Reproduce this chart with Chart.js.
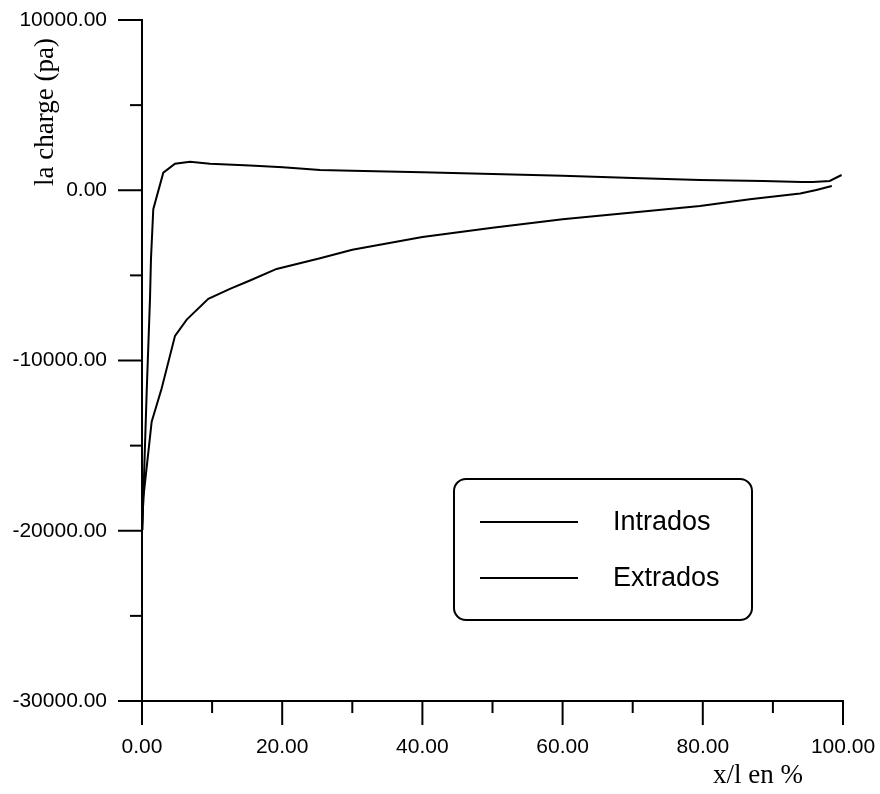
<!DOCTYPE html>
<html>
<head>
<meta charset="utf-8">
<script src="https://cdn.jsdelivr.net/npm/chart.js@4.4.1/dist/chart.umd.min.js"></script>
<style>
    body { margin: 0; background: #fff; }
    canvas { display: block; }
</style>
</head>
<body>
<canvas id="chart" width="880" height="794"></canvas>
<script>
// x/l en %  et  la charge (pa)
const intradosX = [0, 0.04, 0.19, 0.67, 1.14, 1.28, 1.61, 3.04, 4.71, 6.85, 9.7, 15.4, 20.1, 25.4, 30, 40, 50, 60, 70, 79.6, 88.6, 94.1, 95.7, 98.1, 99.8];
const intradosY = [-19900, -19830, -18070, -11820, -6380, -4040, -1110, 1035, 1560, 1680, 1560, 1460, 1345, 1190, 1150, 1050, 950, 850, 720, 600, 545, 485, 485, 545, 895];

const extradosX = [0, 0.04, 0.19, 1.38, 2.8, 4.71, 6.38, 9.46, 12.55, 15.4, 19.2, 25.4, 30, 40, 50, 60, 70, 79.6, 86.7, 93.9, 96.2, 98.4];
const extradosY = [-19900, -19830, -18070, -13590, -11640, -8550, -7600, -6380, -5790, -5300, -4620, -3990, -3500, -2750, -2200, -1700, -1300, -920, -525, -195, 20, 250];

const seriesLabels = ['Intrados', 'Extrados'];
const xTitle = 'x/l en %';
const yTitle = 'la charge (pa)';

const toPoints = (xs, ys) => xs.map((x, i) => ({ x: x, y: ys[i] }));

// pas de marge automatique autour des axes
const noPad = scale => {
    scale.paddingTop = 0;
    scale.paddingBottom = 0;
    scale.paddingLeft = 0;
    scale.paddingRight = 0;
};

// traits de graduation (longs sur les valeurs etiquetees, courts sinon)
const tickMarks = {
    id: 'tickMarks',
    afterDraw(chart) {
        const ctx = chart.ctx;
        const xs = chart.scales.x;
        const ys = chart.scales.y;
        const area = chart.chartArea;
        ctx.save();
        ctx.strokeStyle = '#000';
        ctx.lineWidth = 2;
        xs.ticks.forEach(t => {
            const px = xs.getPixelForValue(t.value);
            const len = t.value % 20 === 0 ? 24 : 12;
            ctx.beginPath();
            ctx.moveTo(px, area.bottom);
            ctx.lineTo(px, area.bottom + len);
            ctx.stroke();
        });
        ys.ticks.forEach(t => {
            const py = ys.getPixelForValue(t.value);
            const len = t.value % 10000 === 0 ? 24 : 12;
            ctx.beginPath();
            ctx.moveTo(area.left, py);
            ctx.lineTo(area.left - len, py);
            ctx.stroke();
        });

        // titres des axes
        ctx.fillStyle = '#000';
        ctx.font = '27px "Liberation Serif", "Times New Roman", serif';
        ctx.textAlign = 'left';
        ctx.textBaseline = 'middle';
        ctx.fillText(xTitle, 713, 776);

        ctx.translate(46, 112);
        ctx.rotate(-Math.PI / 2);
        ctx.textAlign = 'center';
        ctx.fillText(yTitle, 0, 0);
        ctx.restore();
    }
};

// legende encadree
const boxLegend = {
    id: 'boxLegend',
    afterDraw(chart) {
        const ctx = chart.ctx;
        ctx.save();
        ctx.strokeStyle = '#000';
        ctx.lineWidth = 2;
        ctx.beginPath();
        ctx.roundRect(454, 479, 298, 141, 12);
        ctx.stroke();

        const rows = [522, 578];
        ctx.font = '27px "Liberation Sans", Arial, sans-serif';
        ctx.textAlign = 'left';
        ctx.textBaseline = 'middle';
        ctx.fillStyle = '#000';
        chart.data.datasets.forEach((ds, i) => {
            ctx.beginPath();
            ctx.moveTo(480, rows[i]);
            ctx.lineTo(578, rows[i]);
            ctx.stroke();
            ctx.fillText(ds.label, 613, rows[i] + 1);
        });
        ctx.restore();
    }
};

window.onload = function() {
    const ctx = document.getElementById('chart').getContext('2d');
    new Chart(ctx, {
        type: 'line',
        data: {
            datasets: [
                {
                    label: seriesLabels[0],
                    data: toPoints(intradosX, intradosY),
                    borderColor: '#000',
                    borderWidth: 2,
                    pointRadius: 0,
                    tension: 0,
                    fill: false
                },
                {
                    label: seriesLabels[1],
                    data: toPoints(extradosX, extradosY),
                    borderColor: '#000',
                    borderWidth: 2,
                    pointRadius: 0,
                    tension: 0,
                    fill: false
                }
            ]
        },
        options: {
            responsive: false,
            animation: false,
            layout: {
                padding: { top: 20, right: 37, left: 0, bottom: 0 }
            },
            plugins: {
                legend: { display: false },
                tooltip: { enabled: false }
            },
            scales: {
                x: {
                    type: 'linear',
                    min: 0,
                    max: 100,
                    afterFit: scale => { scale.height = 93; noPad(scale); },
                    grid: { drawOnChartArea: false, drawTicks: false },
                    border: { display: true, color: '#000', width: 2 },
                    ticks: {
                        stepSize: 10,
                        padding: 34,
                        maxRotation: 0,
                        autoSkip: false,
                        color: '#000',
                        font: { family: '"Liberation Sans", Arial, sans-serif', size: 21 },
                        callback: v => (v % 20 === 0 ? v.toFixed(2) : '')
                    }
                },
                y: {
                    min: -30000,
                    max: 10000,
                    afterFit: scale => { scale.width = 142; noPad(scale); },
                    grid: { drawOnChartArea: false, drawTicks: false },
                    border: { display: true, color: '#000', width: 2 },
                    ticks: {
                        stepSize: 5000,
                        padding: 35,
                        autoSkip: false,
                        color: '#000',
                        font: { family: '"Liberation Sans", Arial, sans-serif', size: 21 },
                        callback: v => (v % 10000 === 0 ? v.toFixed(2) : '')
                    }
                }
            }
        },
        plugins: [tickMarks, boxLegend]
    });
};
</script>
</body>
</html>
